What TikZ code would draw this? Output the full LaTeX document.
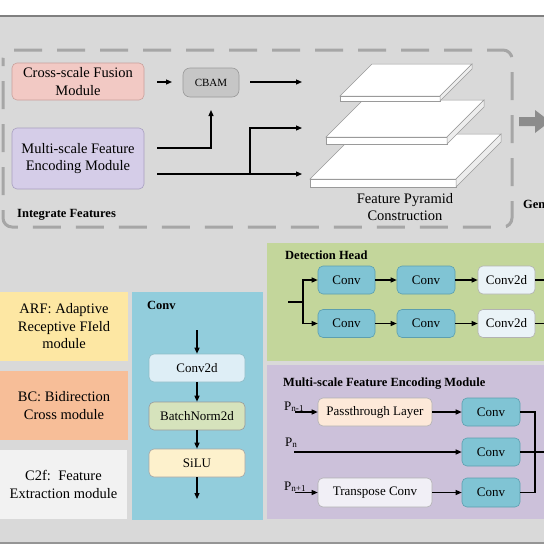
\documentclass[tikz,border=0pt]{standalone}
\usepackage{fontspec}
\setmainfont{Liberation Serif}
\usetikzlibrary{arrows.meta,calc}
\definecolor{bggray}{HTML}{D9D9D9}
\definecolor{rulegray}{HTML}{808080}
\definecolor{dashgray}{HTML}{A6A6A6}
\definecolor{csfill}{HTML}{F2C9C4}
\definecolor{csdraw}{HTML}{C9A09B}
\definecolor{msfill}{HTML}{D5CDE8}
\definecolor{msdraw}{HTML}{A89FC0}
\definecolor{cbfill}{HTML}{C6C6C6}
\definecolor{cbdraw}{HTML}{9A9A9A}
\definecolor{arfcol}{HTML}{FDE7A3}
\definecolor{bccol}{HTML}{F7BE98}
\definecolor{c2fcol}{HTML}{F2F2F2}
\definecolor{convpanel}{HTML}{92CDDC}
\definecolor{lbfill}{HTML}{DEEEF6}
\definecolor{lgfill}{HTML}{D6E3BC}
\definecolor{lyfill}{HTML}{FDF1CC}
\definecolor{dhpanel}{HTML}{C3D69B}
\definecolor{tealfill}{HTML}{80C4D4}
\definecolor{tealdraw}{HTML}{5C9FAF}
\definecolor{c2dfill}{HTML}{EAF3F7}
\definecolor{mspanel}{HTML}{CCC1DA}
\definecolor{passfill}{HTML}{FDE9D9}
\definecolor{tcfill}{HTML}{F1EFF6}
\definecolor{bigarrow}{HTML}{8C8C8C}
\definecolor{slabedge}{HTML}{9A9A9A}
\definecolor{slabside}{HTML}{EDEDED}
\tikzset{
  bigtxt/.style={font=\fontsize{14.5}{17.5}\selectfont, align=center},
  medtxt/.style={font=\fontsize{13}{15}\selectfont, align=center},
  ttl/.style={font=\fontsize{12.5}{14}\selectfont\bfseries, anchor=base west, inner sep=0pt},
  rbox/.style={rounded corners=5pt, line width=0.6pt, inner sep=0pt},
  panel/.style={inner sep=0pt, draw=none},
  arr/.style={line width=1.2pt, -{Triangle[length=6pt,width=5pt]}},
  ln/.style={line width=1.2pt},
  tealbox/.style={rbox, fill=tealfill, draw=tealdraw, medtxt, minimum width=57pt, minimum height=28pt},
}
\newcommand{\slab}[4]{% front-left x, y, width, depth ; thickness via \slabt
  \fill[white,draw=slabedge,line width=0.5pt] (#1,#2) -- ++(#3,0) -- ++(#4,-#4) -- ++(-#3,0) -- cycle;
  \fill[white,draw=slabedge,line width=0.5pt] (#1,#2) rectangle ++(#3,\slabt);
  \fill[slabside,draw=slabedge,line width=0.5pt] (#1+#3,#2) -- ++(#4,-#4) -- ++(0,\slabt) -- ++(-#4,#4) -- cycle;
}
\newcommand{\slabt}{5}
\begin{document}
\begin{tikzpicture}[x=1pt,y=-1pt]
\useasboundingbox (0,0) rectangle (544,544);
\clip (0,0) rectangle (544,544);
% background
\fill[white] (0,0) rectangle (544,16);
\fill[bggray] (0,16) rectangle (544,544);
\draw[rulegray,line width=2pt] (0,16) -- (544,16);
\draw[dashgray!90!black,line width=2pt] (0,543) -- (544,543);
% dashed integrate box
\draw[dashgray,line width=3pt,dash pattern=on 28pt off 15pt,dash phase=-22pt,rounded corners=9pt] (3,50) rectangle (512,227);
% top-left boxes
\node[rbox,bigtxt,fill=csfill,draw=csdraw,minimum width=132pt,minimum height=37pt] (cs) at (78,81.5) {Cross-scale Fusion\\Module};
\node[rbox,bigtxt,fill=msfill,draw=msdraw,minimum width=132pt,minimum height=61pt] (ms) at (78,158.5) {Multi-scale Feature\\Encoding Module};
\node[rbox,fill=cbfill,draw=cbdraw,minimum width=56pt,minimum height=29pt,font=\fontsize{11}{13}\selectfont,rounded corners=7pt] (cbam) at (211,82.5) {CBAM};
\node[ttl] (intf) at (17,217) {Integrate Features};
% pyramid slabs
\renewcommand{\slabt}{8}\slab{310}{179}{146}{45}
\renewcommand{\slabt}{7}\slab{326}{137}{121}{37}
\renewcommand{\slabt}{5}\slab{340}{96}{100}{32}
\node[bigtxt] (fpc) at (405,207) {Feature Pyramid\\Construction};
% connectors top
\coordinate (a0) at (157,82);
\coordinate (a1) at (172,82);
\coordinate (b0) at (250,82);
\coordinate (p1) at (302,82);
\coordinate (p2) at (302,128);
\coordinate (p3) at (302,174);
\coordinate (m1) at (157,148);
\coordinate (m2) at (157,174);
\coordinate (cb) at (211,110);
\coordinate (br) at (250,174);
\draw[arr] (a0) -- (a1);
\draw[arr] (b0) -- (p1);
\draw[arr] (m1) -| (cb);
\draw[arr] (m2) -- (p3);
\draw[arr] (br) |- (p2);
% big gray arrow and Gen
\fill[bigarrow] (519,117) -- (535,117) -- (535,110) -- (550,121.5) -- (535,133) -- (535,126) -- (519,126) -- cycle;
\node[ttl] (gen) at (523,208) {Gen};
% left legend boxes
\node[panel,fill=arfcol,minimum width=128pt,minimum height=69pt,bigtxt] (arf) at (64,326.5) {ARF: Adaptive\\Receptive FIeld\\module};
\node[panel,fill=bccol,minimum width=128pt,minimum height=69pt,bigtxt] (bc) at (64,405.5) {BC: Bidirection\\Cross module};
\node[panel,fill=c2fcol,minimum width=127pt,minimum height=69pt,bigtxt] (c2f) at (63.5,484.5) {C2f:\ \ Feature\\Extraction module};
% Conv panel
\node[panel,fill=convpanel,minimum width=131pt,minimum height=228pt] (convp) at (197.5,406) {};
\node[ttl] (convt) at (147,309) {Conv};
\node[rbox,medtxt,fill=lbfill,draw=tealdraw!70,minimum width=96pt,minimum height=28pt] (k1) at (197,368) {Conv2d};
\node[rbox,medtxt,fill=lgfill,draw=gray!80,minimum width=96pt,minimum height=28pt] (k2) at (197,416) {BatchNorm2d};
\node[rbox,medtxt,fill=lyfill,draw=gray!70,minimum width=96pt,minimum height=28pt] (k3) at (197,463) {SiLU};
\coordinate (kin) at (197,330);
\coordinate (kout) at (197,499);
\draw[arr] (kin) -- (k1);
\draw[arr] (k1) -- (k2);
\draw[arr] (k2) -- (k3);
\draw[arr] (k3) -- (kout);
% Detection head panel
\node[panel,fill=dhpanel,minimum width=280pt,minimum height=118pt] (dhp) at (407,302) {};
\node[ttl] (dht) at (285,259) {Detection Head};
\node[tealbox] (d11) at (346.5,280) {Conv};
\node[tealbox,minimum width=58pt] (d12) at (426,280) {Conv};
\node[rbox,medtxt,fill=c2dfill,draw=gray!60,minimum width=57pt,minimum height=28pt] (d13) at (506.5,280) {Conv2d};
\node[tealbox] (d21) at (346.5,323.5) {Conv};
\node[tealbox,minimum width=58pt] (d22) at (426,323.5) {Conv};
\node[rbox,medtxt,fill=c2dfill,draw=gray!60,minimum width=57pt,minimum height=28pt] (d23) at (506.5,323.5) {Conv2d};
\coordinate (din) at (288,302);
\coordinate (dsp) at (303,302);
\coordinate (do1) at (546,280);
\coordinate (do2) at (546,323.5);
\draw[ln] (din) -- (dsp);
\draw[arr] (dsp) |- (d11);
\draw[arr] (dsp) |- (d21);
\draw[arr] (d11) -- (d12);
\draw[arr] (d12) -- (d13);
\draw[arr] (d21) -- (d22);
\draw[arr] (d22) -- (d23);
\draw[ln] (d13) -- (do1);
\draw[ln] (d23) -- (do2);
% MSFE panel
\node[panel,fill=mspanel,minimum width=280pt,minimum height=154pt] (msp) at (407,442) {};
\node[ttl] (mst) at (283,386) {Multi-scale Feature Encoding Module};
\node[rbox,medtxt,fill=passfill,draw=gray!60,minimum width=114pt,minimum height=28pt] (pass) at (375,412) {Passthrough Layer};
\node[rbox,medtxt,fill=tcfill,draw=gray!60,minimum width=114pt,minimum height=29pt] (tc) at (375,492.5) {Transpose Conv};
\node[tealbox,minimum width=58pt] (e1) at (491,412) {Conv};
\node[tealbox,minimum width=58pt] (e2) at (491,452) {Conv};
\node[tealbox,minimum width=58pt,minimum height=29pt] (e3) at (491,492.5) {Conv};
\node[medtxt,anchor=base west,inner sep=0pt] (pn1) at (284,410) {P\textsubscript{n-1}};
\node[medtxt,anchor=base west,inner sep=0pt] (pn) at (285,446) {P\textsubscript{n}};
\node[medtxt,anchor=base west,inner sep=0pt] (pn2) at (284,490) {P\textsubscript{n+1}};
\coordinate (q1) at (295,412);
\coordinate (q2) at (294,452);
\coordinate (q3) at (295,492.5);
\coordinate (mj1) at (535,412);
\coordinate (mj3) at (535,492.5);
\coordinate (mo) at (546,452);
\draw[arr] (q1) -- (pass);
\draw[arr] (q2) -- (e2);
\draw[arr] (q3) -- (tc);
\draw[arr] (pass) -- (e1);
\draw[arr] (tc) -- (e3);
\draw[ln] (e1) -- (mj1) -- (mj3) -- (e3);
\draw[ln] (e2) -- (mo);
\end{tikzpicture}
\end{document}
